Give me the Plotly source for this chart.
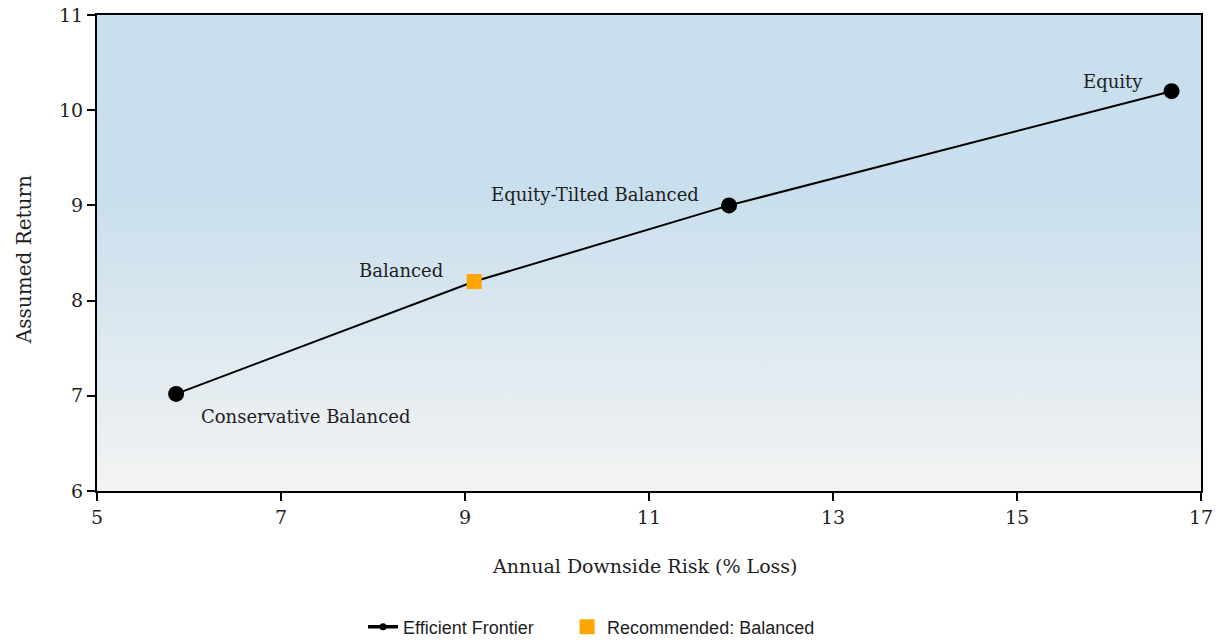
import plotly.graph_objects as go
import base64

# Data
portfolios = ["Conservative Balanced", "Balanced", "Equity-Tilted Balanced", "Equity"]
risk = [5.86, 9.1, 11.87, 16.68]
ret = [7.02, 8.2, 9.0, 10.2]
rec_name = "Balanced"
x_ticks = [5, 7, 9, 11, 13, 15, 17]
y_ticks = [6, 7, 8, 9, 10, 11]
x_title = "Annual Downside Risk (% Loss)"
y_title = "Assumed Return"

serif = "DejaVu Serif"
txt = "#1e1e1e"

svg = ('<svg xmlns="http://www.w3.org/2000/svg" width="100" height="100" preserveAspectRatio="none">'
       '<defs><linearGradient id="g" x1="0" y1="0" x2="0" y2="1">'
       '<stop offset="0" stop-color="#c9dfed"/><stop offset="0.38" stop-color="#c9dfed"/>'
       '<stop offset="1" stop-color="#f3f3f3"/></linearGradient></defs>'
       '<rect width="100" height="100" fill="url(#g)"/></svg>')
src = "data:image/svg+xml;base64," + base64.b64encode(svg.encode()).decode()

frontier_x = [r for n, r in zip(portfolios, risk) if n != rec_name]
frontier_y = [v for n, v in zip(portfolios, ret) if n != rec_name]

fig = go.Figure()
fig.add_trace(go.Scatter(
    x=risk, y=ret, mode="lines", line=dict(color="black", width=2),
    showlegend=False, hoverinfo="skip"))
fig.add_trace(go.Scatter(
    x=frontier_x, y=frontier_y, mode="markers",
    marker=dict(color="black", size=16),
    name="Efficient Frontier", showlegend=False))
fig.add_trace(go.Scatter(
    x=[None], y=[None], mode="lines+markers",
    line=dict(color="black", width=3.5), marker=dict(color="black", size=7),
    name="Efficient Frontier", legend="legend"))
ri = portfolios.index(rec_name)
fig.add_trace(go.Scatter(
    x=[risk[ri]], y=[ret[ri]], mode="markers",
    marker=dict(color="#ffa500", size=15, symbol="square"),
    name="Recommended: Balanced", legend="legend2"))

# point labels
pos = {
    "Conservative Balanced": dict(xanchor="left", yanchor="middle", xshift=23, yshift=-23),
    "Balanced": dict(xanchor="right", yanchor="middle", xshift=-29, yshift=11),
    "Equity-Tilted Balanced": dict(xanchor="right", yanchor="middle", xshift=-28, yshift=11),
    "Equity": dict(xanchor="right", yanchor="middle", xshift=-27, yshift=10),
}
for n, x, y in zip(portfolios, risk, ret):
    fig.add_annotation(x=x, y=y, text=n, showarrow=False,
                       font=dict(family=serif, size=18, color=txt), **pos[n])

# axis titles
fig.add_annotation(xref="paper", yref="paper", x=0.496, y=-0.1576, text=x_title,
                   showarrow=False, xanchor="center", yanchor="middle",
                   font=dict(family=serif, size=19, color=txt))
fig.add_annotation(xref="paper", yref="paper", x=-0.0661, y=0.485, text=y_title,
                   showarrow=False, xanchor="center", yanchor="middle", textangle=-90,
                   font=dict(family=serif, size=20, color=txt))

leg_common = dict(orientation="h", xanchor="left", y=-0.2857, yanchor="middle",
                  font=dict(family="Liberation Sans", size=18, color=txt),
                  bgcolor="rgba(0,0,0,0)")

fig.update_layout(
    width=1216, height=640,
    margin=dict(l=97, r=15, t=15, b=149, autoexpand=False),
    paper_bgcolor="white", plot_bgcolor="rgba(0,0,0,0)",
    font=dict(family=serif, size=18, color=txt),
    images=[dict(source=src, xref="paper", yref="paper", x=0, y=1, sizex=1, sizey=1,
                 sizing="stretch", layer="below", xanchor="left", yanchor="top")],
    legend=dict(x=0.241, **leg_common),
    legend2=dict(x=0.4258, **leg_common),
    xaxis=dict(range=[5, 17], tickvals=x_ticks, showgrid=False, zeroline=False,
               showline=True, linecolor="black", linewidth=2, mirror=True,
               ticks="outside", ticklen=8, tickwidth=2, tickcolor="black",
               automargin=False, ticklabeloverflow="allow", tickfont=dict(size=19)),
    yaxis=dict(range=[6, 11], tickvals=y_ticks, showgrid=False, zeroline=False,
               showline=True, linecolor="black", linewidth=2, mirror=True,
               ticks="outside", ticklen=8, tickwidth=2, tickcolor="black",
               automargin=False, ticklabeloverflow="allow", tickfont=dict(size=19)),
)

fig.write_html("out.html", config={"displayModeBar": False},
               post_script="document.body.style.margin='0';")
